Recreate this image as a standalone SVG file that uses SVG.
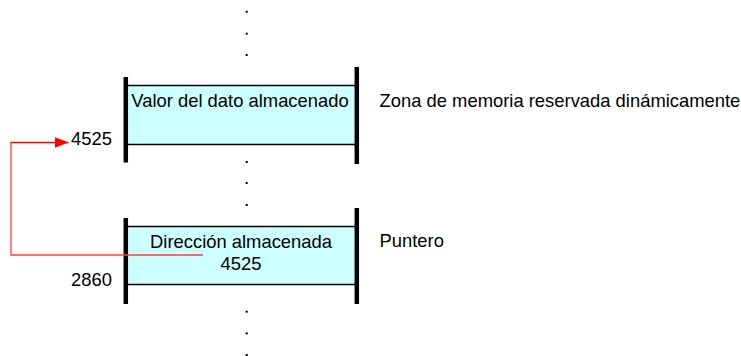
<svg xmlns="http://www.w3.org/2000/svg" width="741" height="356" viewBox="0 0 741 356">
  <style>
    .lbl { font-family: "Liberation Sans", Arial, sans-serif; font-size: 18.4px; fill: #000; }
    .cell { fill: #CCFFFF; stroke: #000; stroke-width: 1.5; }
    .bar { stroke: #000; stroke-width: 4.5; }
    .dot { fill: #000; }
  </style>
  <defs>
    <marker id="arrow" viewBox="0 0 14 11" refX="14" refY="5.5" markerWidth="14" markerHeight="11" markerUnits="userSpaceOnUse" orient="auto">
      <path d="M0,0 L14,5.5 L0,11 Z" fill="#FF0000"/>
    </marker>
  </defs>

  <g id="dots-top">
    <rect class="dot" x="245.7" y="10.7" width="2" height="2"/>
    <rect class="dot" x="245.7" y="32.7" width="2" height="2"/>
    <rect class="dot" x="245.7" y="54" width="2" height="2"/>
  </g>

  <g id="node-heap">
    <rect class="cell" x="126" y="85.5" width="230" height="59"/>
    <line class="bar" x1="125.8" y1="77" x2="125.8" y2="162.5"/>
    <line class="bar" x1="356.8" y1="67" x2="356.8" y2="164"/>
    <text class="lbl" x="240" y="107" text-anchor="middle">Valor del dato almacenado</text>
  </g>
  <text class="lbl" x="379.5" y="107">Zona de memoria reservada dinámicamente</text>
  <text class="lbl" x="71" y="145">4525</text>

  <g id="dots-middle">
    <rect class="dot" x="245.7" y="161" width="2" height="2"/>
    <rect class="dot" x="245.7" y="182" width="2" height="2"/>
    <rect class="dot" x="245.7" y="204" width="2" height="2"/>
  </g>

  <g id="node-pointer">
    <rect class="cell" x="126" y="226.5" width="230" height="58"/>
    <line class="bar" x1="125.8" y1="218" x2="125.8" y2="304"/>
    <line class="bar" x1="356.8" y1="208" x2="356.8" y2="304"/>
    <text class="lbl" x="241" y="248" text-anchor="middle">Dirección almacenada</text>
    <text class="lbl" x="241" y="270" text-anchor="middle">4525</text>
  </g>
  <text class="lbl" x="379.5" y="247">Puntero</text>
  <text class="lbl" x="71" y="286">2860</text>

  <g id="dots-bottom">
    <rect class="dot" x="245.7" y="310.7" width="2" height="2"/>
    <rect class="dot" x="245.7" y="332.3" width="2" height="2"/>
    <rect class="dot" x="245.7" y="354" width="2" height="2"/>
  </g>

  <g id="connectors">
    <path d="M203,255 H11 V142.5" fill="none" stroke="#FF4040" stroke-width="1.3"/>
    <path d="M10.5,142.5 H68.5" fill="none" stroke="#FF0000" stroke-width="1.5" marker-end="url(#arrow)"/>
  </g>
</svg>
